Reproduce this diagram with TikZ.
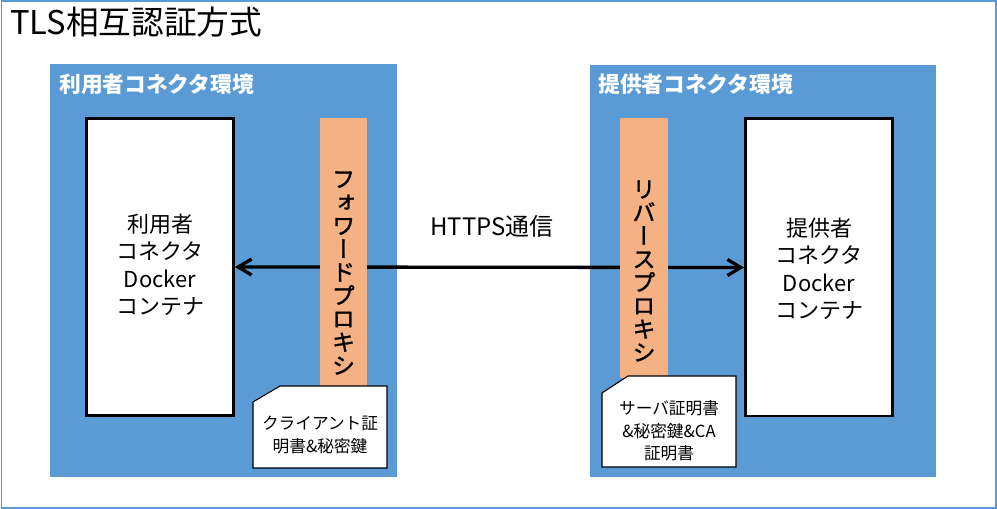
\documentclass[tikz,border=0pt]{standalone}
\usepackage{fontspec}
\usepackage{graphicx}
\setmainfont{Noto Sans CJK JP}
\newfontfamily\vfont[RawFeature=+vert, FakeBold=1.3]{Noto Sans CJK JP}
\usetikzlibrary{arrows.meta}
\definecolor{envblue}{HTML}{5B9BD5}
\definecolor{proxyorange}{HTML}{F4B183}
\tikzset{
  envbox/.style={fill=envblue, draw=none, inner sep=0pt, minimum width=260pt, minimum height=309.5pt},
  envlabel/.style={text=white, font={\bfseries\fontsize{16.3}{18}\selectfont}, inner sep=0pt, anchor=west},
  container/.style={fill=white, draw=black, line width=2pt, inner sep=0pt, minimum width=110.5pt, minimum height=223pt},
  contlabel/.style={align=center, font={\fontsize{16.5}{20.6}\selectfont}, inner sep=0pt},
  proxybar/.style={fill=proxyorange, draw=none},
  proxytext/.style={align=center, font={\vfont\fontsize{17.5}{17.5}\selectfont}, inner sep=0pt},
  docshape/.style={fill=white, draw=black, line width=0.8pt},
  doctext/.style={align=center, font={\fontsize{12.5}{17}\selectfont}, inner sep=0pt},
  link/.style={line width=2.5pt, {Straight Barb[length=10pt,width=12pt]}-{Straight Barb[length=10pt,width=12pt]}}
}
\begin{document}
\begin{tikzpicture}[x=0.75pt,y=-0.75pt]
\useasboundingbox (0,0) rectangle (997,509);
\draw[envblue, line width=1.1pt] (1.5,1) rectangle (996,508);
\node[anchor=base west, inner sep=0pt, font={\fontsize{24.5}{26}\selectfont}] (title) at (10,35) {TLS相互認証方式};

\node[envbox] (lenv) at (223.5,270.5) {};
\node[envbox] (renv) at (763,271) {};
\node[envlabel] (llab) at (59,84) {利用者コネクタ環境};
\node[envlabel] (rlab) at (598,84) {提供者コネクタ環境};

\node[container] (lc) at (160,267) {};
\node[container] (rc) at (819,267.5) {};
\node[contlabel] (lct) at (160,265) {利用者\\コネクタ\\Docker\\コンテナ};
\node[contlabel] (rct) at (819,269) {提供者\\コネクタ\\Docker\\コンテナ};

\draw[link] (lc.east) -- (rc.west);
\node[inner sep=0pt, font={\fontsize{18}{20}\selectfont}] (https) at (492,226) {HTTPS通信};

\fill[proxybar] (320,118) rectangle (367,388);
\fill[proxybar] (620,118) rectangle (668,378);
\node[proxytext] (fwd) at (343.5,273) {フ\\ォ\\ワ\\ー\\ド\\プ\\ロ\\キ\\シ};
\node[proxytext] (rev) at (644,271) {リ\\バ\\ー\\ス\\プ\\ロ\\キ\\シ};

\draw[docshape] (253,402) -- (280,386) -- (387,386) -- (387,468) -- (253,468) -- cycle;
\draw[docshape] (602,393) -- (628,376) -- (736,376) -- (736,467) -- (602,467) -- cycle;
\node[doctext] (ldoc) at (320,435) {クライアント証\\明書\&秘密鍵};
\node[doctext] (rdoc) at (669,431) {サーバ証明書\\\&秘密鍵\&CA\\証明書};
\end{tikzpicture}
\end{document}
